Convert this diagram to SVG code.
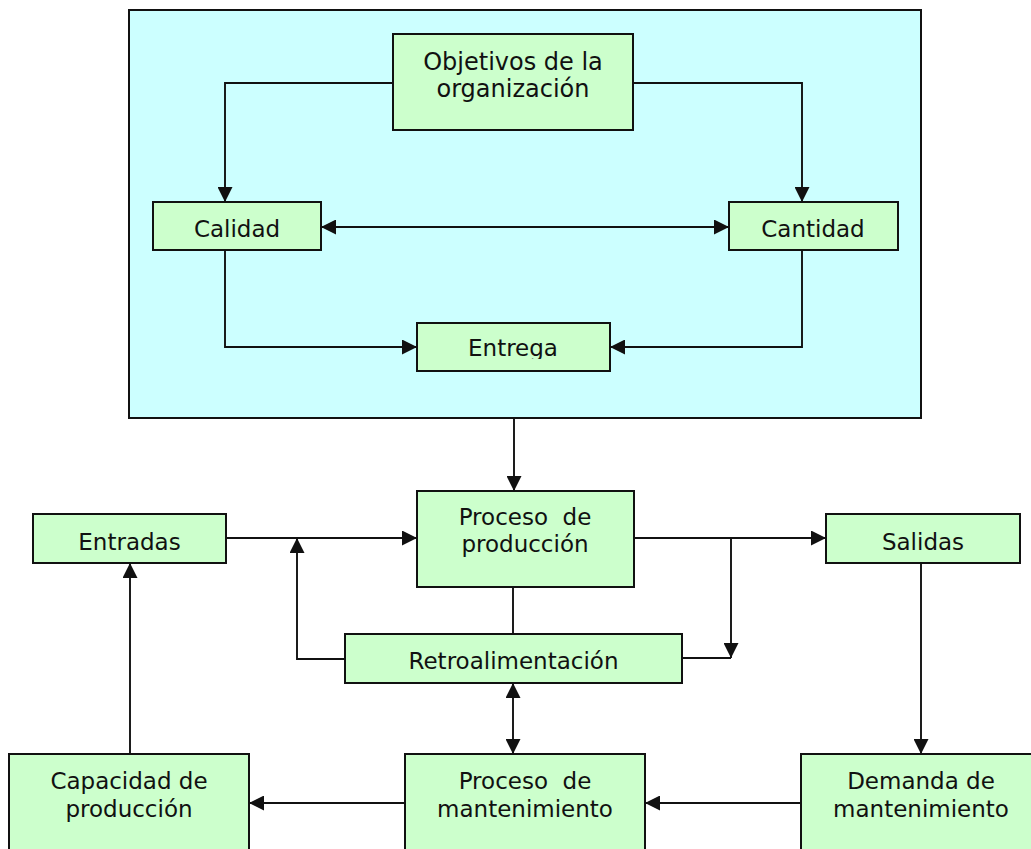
<svg xmlns="http://www.w3.org/2000/svg" width="1031" height="849" viewBox="0 0 1031 849">
  <style>
    .frame { fill: #CCFFFF; stroke: #111; stroke-width: 2; }
    .box { fill: #CCFFCC; stroke: #111; stroke-width: 2; }
    .lbl { font-family: "DejaVu Sans", Verdana, sans-serif; font-size: 23px; fill: #111; text-anchor: middle; }
    .big { font-size: 24px; }
    .wire { fill: none; stroke: #111; stroke-width: 1.9; }
  </style>
  <defs>
    <marker id="arrow" markerUnits="userSpaceOnUse" markerWidth="16" markerHeight="15" refX="15" refY="7.5" orient="auto-start-reverse">
      <path d="M0,0 L15,7.5 L0,15 z" fill="#111"/>
    </marker>
    <clipPath id="cut-entrega">
      <rect x="417" y="323" width="193" height="36"/>
    </clipPath>
  </defs>

  <!-- outer frame holding the organisational goals -->
  <rect id="frame" class="frame" x="129" y="10" width="792" height="408"/>

  <g id="objetivos">
    <rect class="box" x="393" y="34" width="240" height="96"/>
    <text class="lbl big" x="513" y="70">Objetivos de la</text>
    <text class="lbl big" x="513" y="97">organización</text>
  </g>
  <g id="calidad">
    <rect class="box" x="153" y="202" width="168" height="48"/>
    <text class="lbl" x="237" y="237">Calidad</text>
  </g>
  <g id="cantidad">
    <rect class="box" x="729" y="202" width="169" height="48"/>
    <text class="lbl" x="813" y="237">Cantidad</text>
  </g>
  <g id="entrega">
    <rect class="box" x="417" y="323" width="193" height="48"/>
    <text class="lbl" x="513" y="356" clip-path="url(#cut-entrega)">Entrega</text>
  </g>

  <g id="entradas">
    <rect class="box" x="33" y="514" width="193" height="49"/>
    <text class="lbl" x="129.5" y="550">Entradas</text>
  </g>
  <g id="proceso-produccion">
    <rect class="box" x="417" y="491" width="217" height="96"/>
    <text class="lbl" x="525" y="525" xml:space="preserve">Proceso  de</text>
    <text class="lbl" x="525" y="552">producción</text>
  </g>
  <g id="salidas">
    <rect class="box" x="826" y="514" width="194" height="49"/>
    <text class="lbl" x="923" y="550">Salidas</text>
  </g>
  <g id="retroalimentacion">
    <rect class="box" x="345" y="634" width="337" height="49"/>
    <text class="lbl" x="513.5" y="669">Retroalimentación</text>
  </g>

  <g id="capacidad">
    <rect class="box" x="9" y="754" width="240" height="110"/>
    <text class="lbl" x="129" y="789">Capacidad de</text>
    <text class="lbl" x="129" y="817">producción</text>
  </g>
  <g id="proceso-mantenimiento">
    <rect class="box" x="405" y="754" width="240" height="110"/>
    <text class="lbl" x="525" y="789" xml:space="preserve">Proceso  de</text>
    <text class="lbl" x="525" y="817">mantenimiento</text>
  </g>
  <g id="demanda">
    <rect class="box" x="801" y="754" width="240" height="110"/>
    <text class="lbl" x="921" y="789">Demanda de</text>
    <text class="lbl" x="921" y="817">mantenimiento</text>
  </g>

  <g id="connectors">
    <path class="wire" d="M393,83 H225 V202" marker-end="url(#arrow)"/>
    <path class="wire" d="M633,83 H802 V202" marker-end="url(#arrow)"/>
    <path class="wire" d="M321,227 H729" marker-start="url(#arrow)" marker-end="url(#arrow)"/>
    <path class="wire" d="M225,250 V347 H417" marker-end="url(#arrow)"/>
    <path class="wire" d="M802,250 V347 H610" marker-end="url(#arrow)"/>
    <path class="wire" d="M514,418 V491" marker-end="url(#arrow)"/>
    <path class="wire" d="M226,538 H417" marker-end="url(#arrow)"/>
    <path class="wire" d="M345,659 H297 V538" marker-end="url(#arrow)"/>
    <path class="wire" d="M634,538 H826" marker-end="url(#arrow)"/>
    <path class="wire" d="M731,538 V658" marker-end="url(#arrow)"/>
    <path class="wire" d="M682,658 H731"/>
    <path class="wire" d="M513,587 V634"/>
    <path class="wire" d="M513,683 V754" marker-start="url(#arrow)" marker-end="url(#arrow)"/>
    <path class="wire" d="M405,803 H249" marker-end="url(#arrow)"/>
    <path class="wire" d="M801,803 H645" marker-end="url(#arrow)"/>
    <path class="wire" d="M921,563 V754" marker-end="url(#arrow)"/>
    <path class="wire" d="M130,754 V563" marker-end="url(#arrow)"/>
  </g>
</svg>
